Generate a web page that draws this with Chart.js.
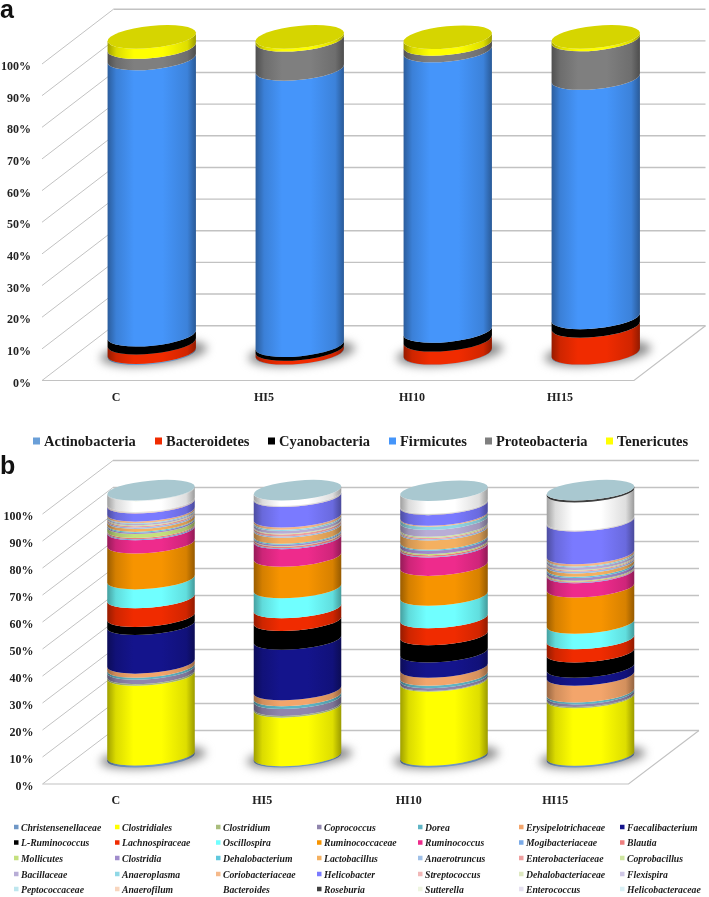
<!DOCTYPE html>
<html>
<head>
<meta charset="utf-8">
<style>
  html, body { margin: 0; padding: 0; background: #fff; }
  #page { position: relative; width: 709px; height: 897px; overflow: hidden; }
  canvas { position: absolute; left: 0; }
  #chart-a { top: 0; }
  #chart-b { top: 450px; }
  .panel-letter { position: absolute; left: 0; font: bold 25px "Liberation Sans", sans-serif; color: #111; line-height: 25px; }
</style>
<script src="https://cdn.jsdelivr.net/npm/chart.js@4"></script>
</head>
<body>
<div id="page">
  <canvas id="chart-a" width="709" height="450"></canvas>
  <canvas id="chart-b" width="709" height="447"></canvas>
  <div class="panel-letter" style="top:-3px">a</div>
  <div class="panel-letter" style="top:453px">b</div>
</div>
<script>
// Groups on the x axis, same for both panels
const categories = ['C', 'HI5', 'HI10', 'HI15'];

// Panel a, phylum level (%)
const actinobacteria = [0.3, 0.1, 0.1, 0.1];
const bacteroidetes = [3.0, 1.2, 4.1, 8.5];
const cyanobacteria = [2.5, 1.2, 2.8, 2.7];
const firmicutes = [87.3, 87.3, 88.6, 75.6];
const proteobacteria = [3.6, 9.2, 2.1, 12.2];
const tenericutes = [3.2, 0.9, 2.1, 0.8];

const phylumNames = ['Actinobacteria', 'Bacteroidetes', 'Cyanobacteria', 'Firmicutes', 'Proteobacteria', 'Tenericutes'];
const phylumValues = [actinobacteria, bacteroidetes, cyanobacteria, firmicutes, proteobacteria, tenericutes];
const phylumColors = ['#6a9fd8', '#f02b00', '#000000', '#4595fa', '#7f7f7f', '#ffff00'];

// Panel b, family / genus level (%), one row per series: C, HI5, HI10, HI15
const familyNames = [
  'Christensenellaceae', 'Clostridiales', 'Clostridium', 'Coprococcus', 'Dorea', 'Erysipelotrichaceae', 'Faecalibacterium',
  'L-Ruminococcus', 'Lachnospiraceae', 'Oscillospira', 'Ruminococcaceae', 'Ruminococcus', 'Mogibacteriaceae', 'Blautia',
  'Mollicutes', 'Clostridia', 'Dehalobacterium', 'Lactobacillus', 'Anaerotruncus', 'Enterobacteriaceae', 'Coprobacillus',
  'Bacillaceae', 'Anaeroplasma', 'Coriobacteriaceae', 'Helicobacter', 'Streptococcus', 'Dehalobacteriaceae', 'Flexispira',
  'Peptococcaceae', 'Anaerofilum', 'Bacteroides', 'Roseburia', 'Sutterella', 'Enterococcus', 'Helicobacteraceae'
];
const familyValues = [
  [0.8, 0.5, 0.7, 0.7],
  [29.5, 18.0, 27.4, 21.3],
  [0.6, 0.6, 0.3, 0.4],
  [1.6, 2.6, 1.0, 1.0],
  [0.8, 1.0, 0.9, 0.7],
  [1.5, 2.2, 3.0, 6.2],
  [14.3, 18.7, 5.6, 3.0],
  [3.0, 7.0, 6.4, 5.6],
  [6.9, 4.7, 6.3, 4.9],
  [7.0, 7.4, 8.3, 5.8],
  [13.3, 11.7, 11.1, 13.4],
  [4.9, 6.5, 6.8, 5.3],
  [0.4, 0.3, 0.3, 0.2],
  [0.4, 0.6, 0.5, 0.3],
  [1.5, 0.2, 0.5, 0.4],
  [0.5, 0.5, 1.2, 1.0],
  [0.3, 0.4, 0.4, 0.5],
  [1.1, 2.2, 3.4, 1.2],
  [0.5, 0.5, 0.5, 0.6],
  [0.5, 0.7, 0.4, 0.4],
  [0.3, 0.3, 0.5, 0.3],
  [0.5, 1.0, 2.5, 0.9],
  [0.3, 0.5, 1.2, 0.4],
  [0.6, 0.8, 0.4, 0.8],
  [3.0, 7.6, 3.9, 12.1],
  [0.2, 0.1, 0.1, 0.1],
  [0.1, 0.1, 0.1, 0.1],
  [0.1, 0.1, 0.1, 0.1],
  [0.1, 0.1, 0.1, 0.1],
  [0.1, 0.1, 0.1, 0.1],
  [3.9, 1.9, 4.7, 10.3],
  [0, 0, 0, 0.7],
  [0.1, 0, 0, 0],
  [0.1, 0, 0, 0],
  [0.1, 0, 0, 0]
];
const familyColors = [
  '#6f97c6', '#ffff00', '#a9bd7c', '#9085ad', '#5fb5c5', '#f3a56b', '#14148c',
  '#000000', '#f02b00', '#70ffff', '#f79400', '#ee2b8c', '#7aaae8', '#ee7f7f',
  '#c4e07d', '#a08ccc', '#60c8dd', '#f4b060', '#9fc0e8', '#ef9f9f', '#cfe6a0',
  '#b8add6', '#90d8e6', '#f5b98a', '#7a7aff', '#f1b8b8', '#dde8c0', '#cfc7e6',
  '#bde6ee', '#f8d5bd', '#ffffff', '#404040', '#eef5e0', '#e4e0f0', '#d8f0f5'
];

function shade(hex, f) {
  const n = parseInt(hex.slice(1), 16);
  const c = [n >> 16, (n >> 8) & 255, n & 255].map(v => Math.round(v * f));
  return `rgb(${c[0]},${c[1]},${c[2]})`;
}

// Draws the 3D walls and turns each stacked bar into a cylinder
const cylinderPlugin = {
  id: 'cylinders',
  beforeDatasetsDraw(chart, args, opts) {
    const { ctx, scales: { x, y } } = chart;
    const { dx, dy, ry, tilt, topColor } = opts;

    ctx.save();
    ctx.strokeStyle = '#c2c2c2';
    ctx.lineWidth = 1;
    y.ticks.forEach(t => {
      const py = y.getPixelForValue(t.value);
      ctx.beginPath();
      ctx.moveTo(x.left, py);
      ctx.lineTo(x.left + dx, py + dy);
      ctx.stroke();
      ctx.save();
      ctx.lineWidth = 1.4;
      ctx.beginPath();
      ctx.moveTo(x.left + dx, py + dy);
      ctx.lineTo(x.right + dx, py + dy);
      ctx.stroke();
      ctx.restore();
    });
    // floor edges
    ctx.lineWidth = 1.2;
    ctx.beginPath();
    ctx.moveTo(x.left, y.bottom);
    ctx.lineTo(x.right, y.bottom);
    ctx.lineTo(x.right + dx, y.bottom + dy);
    ctx.stroke();
    ctx.restore();

    const metas = chart.data.datasets.map((d, i) => chart.getDatasetMeta(i));
    categories.forEach((cat, j) => {
      const first = metas[0].data[j];
      const cx = first.x + dx / 2;
      const rx = first.width / 2;
      const zeroY = y.getPixelForValue(0) + dy / 2;

      // blurred shadow on the floor
      ctx.save();
      ctx.filter = 'blur(5px)';
      ctx.fillStyle = '#8c8c8c';
      ctx.beginPath();
      ctx.ellipse(cx + 2, zeroY, rx + 9, ry + 1, tilt, 0, Math.PI * 2);
      ctx.fill();
      ctx.restore();

      let topY = zeroY;
      metas.forEach((meta, i) => {
        if (chart.data.datasets[i].data[j] <= 0) return;
        const el = meta.data[j];
        const yTop = el.y + dy / 2;
        const yBase = el.base + dy / 2;
        const color = chart.data.datasets[i].backgroundColor;
        const g = ctx.createLinearGradient(cx - rx, 0, cx + rx, 0);
        g.addColorStop(0, shade(color, 0.62));
        g.addColorStop(0.1, shade(color, 0.86));
        g.addColorStop(0.3, shade(color, 1));
        g.addColorStop(0.62, shade(color, 1));
        g.addColorStop(0.9, shade(color, 0.87));
        g.addColorStop(1, shade(color, 0.6));
        ctx.fillStyle = g;
        ctx.beginPath();
        ctx.ellipse(cx, yBase, rx, ry, tilt, 0, Math.PI, false);
        ctx.ellipse(cx, yTop, rx, ry, tilt, Math.PI, 0, true);
        ctx.closePath();
        ctx.fill();
        topY = yTop;
      });

      // top face
      ctx.fillStyle = topColor;
      ctx.beginPath();
      ctx.ellipse(cx, topY, rx, ry, tilt, 0, Math.PI * 2);
      ctx.fill();
    });
    return false;
  },
  // Legend in fixed columns, text comes from the datasets
  afterDraw(chart, args, opts) {
    const { ctx } = chart;
    const { legendX, legendY, legendFont, legendBox, legendGap } = opts;
    const perRow = legendX.length;
    ctx.save();
    ctx.font = legendFont;
    ctx.textBaseline = 'middle';
    chart.data.datasets.forEach((d, i) => {
      const lx = legendX[i % perRow];
      const ly = legendY[Math.floor(i / perRow)];
      ctx.fillStyle = d.backgroundColor;
      ctx.fillRect(lx, ly - legendBox / 2 - 1, legendBox, legendBox);
      ctx.fillStyle = '#1a1a1a';
      ctx.fillText(d.label, lx + legendBox + legendGap, ly);
    });
    ctx.restore();
  }
};

// The reference prints the % labels a little under their lines
function fitYAxis(s, width) {
  s.width = width;
  s.drawLabels = function (area) {
    const c = this.ctx;
    c.save();
    c.translate(0, 3);
    Object.getPrototypeOf(this).drawLabels.call(this, area);
    c.restore();
  };
}

function makeChart(id, names, values, colors, opts) {
  return new Chart(document.getElementById(id), {
    type: 'bar',
    data: {
      labels: categories,
      datasets: names.map((name, i) => ({ label: name, data: values[i], backgroundColor: colors[i] }))
    },
    options: {
      responsive: false,
      animation: false,
      barPercentage: 0.6,
      categoryPercentage: 1,
      layout: { padding: opts.padding },
      plugins: {
        legend: { display: false },
        tooltip: { enabled: false },
        cylinders: opts.cylinder
      },
      scales: {
        x: {
          stacked: true,
          grid: { display: false },
          border: { display: false },
          afterFit: s => { s.height = 30; },
          ticks: { color: '#222', padding: 2, font: { family: 'Liberation Serif', weight: 'bold', size: 12 } }
        },
        y: {
          stacked: true,
          min: 0,
          max: 100,
          grid: { display: false, drawTicks: false },
          border: { display: false },
          afterFit: s => fitYAxis(s, opts.axisWidth),
          ticks: {
            stepSize: 10,
            padding: opts.tickPadding,
            color: '#222',
            font: { family: 'Liberation Serif', weight: 'bold', size: 12 },
            callback: v => v + '%'
          }
        }
      }
    },
    plugins: [cylinderPlugin]
  });
}

makeChart('chart-a', phylumNames, phylumValues, phylumColors, {
  padding: { top: 64, right: 75, bottom: 39.5, left: 0 },
  axisWidth: 42,
  tickPadding: 11,
  cylinder: {
    dx: 71.5, dy: -54.8, ry: 11, tilt: -0.1, topColor: '#d6d500',
    legendX: [33, 155, 268, 389, 485, 606], legendY: [442],
    legendFont: 'bold 14.5px "Liberation Serif"', legendBox: 7, legendGap: 4
  }
});

makeChart('chart-b', familyNames, familyValues, familyColors, {
  padding: { top: 64, right: 80.5, bottom: 83, left: 0 },
  axisWidth: 42.5,
  tickPadding: 9,
  cylinder: {
    dx: 70.5, dy: -53.5, ry: 9.6, tilt: -0.09, topColor: '#a9c8d0',
    legendX: [14, 115, 216, 317, 418, 519, 620], legendY: [378, 393.5, 409, 425, 440],
    legendFont: 'italic bold 9.7px "Liberation Serif"', legendBox: 4.5, legendGap: 2.5
  }
});
</script>
</body>
</html>
